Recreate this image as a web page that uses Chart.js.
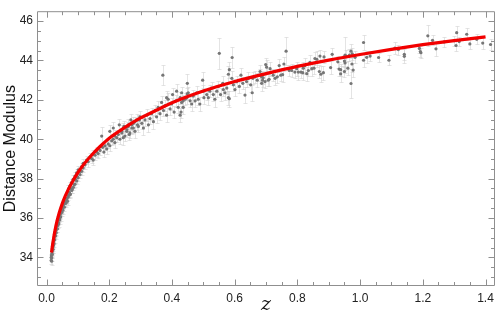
<!DOCTYPE html>
<html>
<head>
<meta charset="utf-8">
<script src="https://cdn.jsdelivr.net/npm/chart.js@4/dist/chart.umd.min.js"></script>
<style>
html, body { margin: 0; padding: 0; background: #fff; }
canvas { display: block; }
</style>
</head>
<body>
<canvas id="hubbleChart" width="500" height="317"></canvas>
<script>
'use strict';

/* ── Data ───────────────────────────────────────────── */
const redshift = [
    0.015, 0.015, 0.016, 0.0166, 0.0166, 0.017, 0.018, 0.0185, 0.019, 0.0198, 0.020, 0.021,
    0.021, 0.0217, 0.022, 0.023, 0.0239, 0.024, 0.025, 0.026, 0.026, 0.0271, 0.028, 0.029,
    0.0293, 0.030, 0.031, 0.0325, 0.033, 0.0344, 0.035, 0.035, 0.036, 0.0376, 0.038, 0.039,
    0.0408, 0.041, 0.042, 0.042, 0.043, 0.044, 0.045, 0.0462, 0.047, 0.049, 0.050, 0.0504,
    0.052, 0.0536, 0.055, 0.057, 0.059, 0.060, 0.062, 0.0644, 0.065, 0.067, 0.0695, 0.070,
    0.070, 0.073, 0.0749, 0.075, 0.076, 0.078, 0.080, 0.0804, 0.082, 0.085, 0.0855, 0.088,
    0.091, 0.0909, 0.093, 0.096, 0.0963, 0.098, 0.101, 0.101, 0.107, 0.107, 0.112, 0.112,
    0.117, 0.117, 0.123, 0.128, 0.133, 0.139, 0.144, 0.147, 0.149, 0.155, 0.160, 0.165,
    0.171, 0.176, 0.179, 0.183, 0.187, 0.192, 0.197, 0.202, 0.202, 0.208, 0.213, 0.213,
    0.218, 0.218, 0.224, 0.229, 0.232, 0.234, 0.240, 0.240, 0.245, 0.245, 0.247, 0.250,
    0.256, 0.256, 0.261, 0.261, 0.264, 0.266, 0.269, 0.272, 0.272, 0.277, 0.277, 0.282,
    0.282, 0.288, 0.290, 0.293, 0.296, 0.298, 0.304, 0.309, 0.314, 0.320, 0.325, 0.330,
    0.335, 0.341, 0.346, 0.351, 0.356, 0.362, 0.367, 0.371, 0.373, 0.378, 0.383, 0.383,
    0.388, 0.394, 0.399, 0.402, 0.407, 0.413, 0.415, 0.420, 0.426, 0.426, 0.429, 0.431,
    0.431, 0.436, 0.436, 0.442, 0.447, 0.449, 0.449, 0.452, 0.458, 0.463, 0.468, 0.474,
    0.479, 0.484, 0.489, 0.498, 0.500, 0.502, 0.511, 0.516, 0.521, 0.527, 0.532, 0.537,
    0.543, 0.548, 0.551, 0.555, 0.562, 0.564, 0.569, 0.575, 0.580, 0.580, 0.583, 0.583,
    0.591, 0.592, 0.596, 0.601, 0.607, 0.615, 0.620, 0.626, 0.633, 0.638, 0.644, 0.651,
    0.656, 0.658, 0.665, 0.672, 0.681, 0.681, 0.686, 0.686, 0.689, 0.691, 0.697, 0.699,
    0.702, 0.707, 0.710, 0.713, 0.723, 0.729, 0.736, 0.742, 0.747, 0.753, 0.757, 0.764,
    0.774, 0.782, 0.792, 0.798, 0.803, 0.811, 0.817, 0.819, 0.824, 0.830, 0.835, 0.840,
    0.846, 0.853, 0.856, 0.862, 0.870, 0.872, 0.875, 0.883, 0.885, 0.906, 0.911, 0.929,
    0.933, 0.938, 0.938, 0.950, 0.952, 0.950, 0.952, 0.956, 0.961, 0.966, 0.971, 0.975,
    0.974, 0.978, 0.971, 0.984, 1.011, 1.011, 1.021, 1.032, 1.059, 1.092, 1.111, 1.122,
    1.141, 1.141, 1.189, 1.192, 1.194, 1.216, 1.231, 1.242, 1.268, 1.300, 1.306, 1.308,
    1.316, 1.340, 1.350, 1.372, 1.391, 1.416
];

const distMod = [
    33.85, 34.00, 34.10, 33.81, 33.98, 34.20, 34.30, 34.15, 34.45, 34.39, 34.50, 34.40,
    34.70, 34.63, 34.60, 34.85, 34.88, 34.70, 35.05, 34.90, 35.20, 35.12, 35.30, 35.10,
    35.29, 35.40, 35.25, 35.44, 35.60, 35.61, 35.45, 35.75, 35.65, 35.78, 35.95, 35.70,
    35.93, 36.00, 36.15, 35.90, 36.10, 36.20, 36.05, 36.26, 36.35, 36.30, 36.50, 36.42,
    36.40, 36.59, 36.70, 36.55, 36.75, 36.85, 36.75, 36.91, 37.00, 36.85, 37.07, 37.15,
    37.48, 37.30, 37.23, 37.64, 37.20, 37.50, 37.80, 37.40, 37.45, 37.97, 37.56, 37.70,
    38.13, 37.72, 37.95, 38.29, 37.88, 38.10, 38.45, 38.05, 38.37, 38.21, 38.61, 38.37,
    38.78, 38.54, 38.70, 38.94, 38.86, 39.10, 39.02, 39.22, 38.94, 39.19, 39.35, 39.27,
    39.43, 40.16, 39.59, 39.35, 39.67, 39.51, 39.76, 39.67, 40.40, 39.92, 40.00, 40.57,
    39.83, 40.16, 40.08, 40.24, 40.73, 40.00, 40.32, 40.40, 40.57, 40.08, 40.65, 40.16,
    40.49, 40.40, 40.65, 40.73, 40.24, 40.32, 40.98, 40.73, 40.57, 40.57, 40.81, 40.89,
    40.40, 40.98, 40.73, 40.65, 40.98, 41.14, 40.81, 40.57, 40.98, 41.22, 40.73, 41.05,
    41.30, 40.89, 41.46, 41.14, 41.62, 41.30, 41.87, 43.25, 41.46, 41.71, 41.22, 42.11,
    42.03, 41.54, 41.79, 42.27, 41.38, 41.95, 42.44, 41.62, 41.22, 42.11, 41.38, 42.36,
    41.87, 41.95, 41.62, 42.03, 42.11, 42.84, 42.31, 42.36, 41.95, 41.79, 42.20, 41.95,
    42.36, 42.03, 41.79, 43.00, 42.44, 42.11, 42.27, 42.11, 42.44, 42.60, 42.27, 42.03,
    42.44, 42.68, 44.36, 42.27, 42.84, 42.52, 42.36, 42.60, 43.30, 42.11, 43.53, 42.06,
    43.09, 44.15, 42.76, 42.52, 42.93, 42.68, 43.25, 42.84, 42.24, 42.93, 43.09, 42.76,
    42.36, 43.09, 43.17, 43.00, 43.44, 43.25, 43.17, 42.84, 43.00, 43.12, 42.93, 43.79,
    43.66, 43.00, 43.04, 43.58, 43.25, 43.09, 43.17, 43.74, 43.25, 43.28, 43.82, 44.47,
    43.49, 43.49, 43.41, 43.58, 43.41, 43.41, 43.38, 43.61, 43.74, 43.33, 43.49, 43.90,
    43.58, 43.61, 44.10, 44.06, 43.44, 44.22, 43.30, 43.38, 44.18, 43.64, 44.31, 43.93,
    43.56, 43.53, 43.32, 43.97, 43.87, 43.44, 44.27, 44.22, 43.61, 44.27, 44.47, 44.34,
    43.82, 43.51, 42.83, 44.16, 44.91, 44.01, 44.16, 44.22, 44.15, 44.01, 44.63, 44.55,
    44.31, 44.21, 44.61, 44.45, 44.39, 45.25, 45.02, 44.59, 44.94, 45.00, 44.76, 45.41,
    44.96, 45.33, 44.84, 45.07, 44.88, 44.81
];

const distErr = [
    0.18, 0.15, 0.15, 0.20, 0.15, 0.15, 0.15, 0.18, 0.15, 0.15, 0.15, 0.18,
    0.15, 0.15, 0.15, 0.15, 0.15, 0.18, 0.15, 0.18, 0.15, 0.15, 0.15, 0.18,
    0.15, 0.15, 0.18, 0.15, 0.15, 0.15, 0.18, 0.15, 0.15, 0.15, 0.15, 0.18,
    0.15, 0.15, 0.15, 0.18, 0.15, 0.15, 0.18, 0.15, 0.15, 0.18, 0.15, 0.15,
    0.18, 0.15, 0.15, 0.20, 0.15, 0.15, 0.18, 0.15, 0.15, 0.20, 0.15, 0.15,
    0.18, 0.15, 0.15, 0.18, 0.18, 0.15, 0.18, 0.15, 0.18, 0.20, 0.15, 0.18,
    0.20, 0.15, 0.18, 0.20, 0.15, 0.18, 0.20, 0.18, 0.20, 0.18, 0.20, 0.20,
    0.20, 0.20, 0.22, 0.22, 0.25, 0.22, 0.25, 0.22, 0.25, 0.22, 0.25, 0.22,
    0.25, 0.45, 0.22, 0.25, 0.22, 0.25, 0.22, 0.25, 0.30, 0.22, 0.25, 0.30,
    0.25, 0.30, 0.22, 0.25, 0.30, 0.25, 0.25, 0.30, 0.25, 0.35, 0.30, 0.25,
    0.25, 0.30, 0.25, 0.30, 0.30, 0.25, 0.30, 0.25, 0.30, 0.25, 0.30, 0.25,
    0.35, 0.30, 0.25, 0.30, 0.25, 0.30, 0.30, 0.35, 0.30, 0.30, 0.35, 0.30,
    0.30, 0.35, 0.30, 0.30, 0.30, 0.30, 0.35, 0.50, 0.30, 0.30, 0.35, 0.35,
    0.30, 0.30, 0.30, 0.35, 0.30, 0.30, 0.35, 0.30, 0.35, 0.30, 0.30, 0.30,
    0.30, 0.30, 0.35, 0.30, 0.30, 0.45, 0.30, 0.30, 0.30, 0.35, 0.30, 0.30,
    0.35, 0.30, 0.35, 0.40, 0.30, 0.30, 0.30, 0.35, 0.30, 0.30, 0.35, 0.40,
    0.30, 0.30, 0.80, 0.35, 0.35, 0.30, 0.35, 0.30, 0.40, 0.35, 0.40, 0.40,
    0.35, 0.55, 0.30, 0.35, 0.30, 0.35, 0.35, 0.30, 0.40, 0.30, 0.30, 0.35,
    0.40, 0.30, 0.30, 0.35, 0.35, 0.30, 0.30, 0.40, 0.35, 0.30, 0.35, 0.35,
    0.35, 0.30, 0.35, 0.35, 0.30, 0.35, 0.30, 0.35, 0.30, 0.35, 0.35, 0.70,
    0.30, 0.35, 0.30, 0.35, 0.40, 0.30, 0.35, 0.30, 0.40, 0.35, 0.30, 0.40,
    0.35, 0.30, 0.35, 0.40, 0.35, 0.30, 0.40, 0.35, 0.30, 0.35, 0.30, 0.30,
    0.35, 0.30, 0.40, 0.30, 0.35, 0.30, 0.90, 0.30, 0.35, 0.30, 0.35, 0.30,
    0.40, 0.35, 0.75, 0.30, 0.37, 0.35, 0.30, 0.25, 0.25, 0.25, 0.30, 0.25,
    0.30, 0.35, 0.25, 0.30, 0.25, 0.53, 0.25, 0.35, 0.25, 0.25, 0.30, 0.33,
    0.25, 0.30, 0.25, 0.25, 0.30, 0.30
];

// fitted model curve, sampled off the red line
const modelZ  = [0.016, 0.02, 0.03, 0.04, 0.05, 0.06, 0.07, 0.08, 0.10, 0.12, 0.15, 0.17, 0.20, 0.25,
                 0.30, 0.35, 0.40, 0.45, 0.50, 0.60, 0.70, 0.80, 0.90, 1.00, 1.10, 1.20, 1.30, 1.40];
const modelMu = [34.25, 34.71, 35.60, 36.23, 36.72, 37.12, 37.47, 37.77, 38.30, 38.75, 39.30, 39.62, 40.05, 40.60,
                 41.08, 41.47, 41.85, 42.17, 42.45, 42.93, 43.33, 43.70, 44.02, 44.30, 44.56, 44.80, 45.01, 45.20];

const xTicks = [0.0, 0.2, 0.4, 0.6, 0.8, 1.0, 1.2, 1.4];
const yTicks = [34, 36, 38, 40, 42, 44, 46];

/* ── Frame, inward ticks and error bars ─────────────── */
const FRAME = '#8f8f8f';

const framePlugin = {
    id: 'framePlugin',
    beforeDatasetsDraw(chart) {
        const { ctx, chartArea: a, scales: { x, y } } = chart;
        ctx.save();
        ctx.beginPath();
        ctx.rect(a.left, a.top, a.right - a.left, a.bottom - a.top);
        ctx.clip();
        ctx.strokeStyle = 'rgba(205,205,205,0.55)';
        ctx.lineWidth = 1;
        ctx.beginPath();
        redshift.forEach((z, i) => {
            const px = Math.round(x.getPixelForValue(z)) + 0.5;
            const hi = Math.round(y.getPixelForValue(distMod[i] + distErr[i])) + 0.5;
            const lo = Math.round(y.getPixelForValue(distMod[i] - distErr[i])) + 0.5;
            ctx.moveTo(px, hi); ctx.lineTo(px, lo);
            ctx.moveTo(px - 2, hi); ctx.lineTo(px + 2, hi);
            ctx.moveTo(px - 2, lo); ctx.lineTo(px + 2, lo);
        });
        ctx.stroke();
        ctx.restore();
    },
    afterDraw(chart) {
        const { ctx, chartArea: a, scales: { x, y } } = chart;
        const L = a.left + 0.5, R = a.right - 0.5, T = a.top + 0.5, B = a.bottom - 0.5;
        ctx.save();
        ctx.strokeStyle = FRAME;
        ctx.lineWidth = 1;
        ctx.beginPath();
        ctx.rect(L, T, R - L, B - T);

        const xTick = (v, len) => {
            const px = Math.round(x.getPixelForValue(v)) + 0.5;
            ctx.moveTo(px, B); ctx.lineTo(px, B - len);
            ctx.moveTo(px, T); ctx.lineTo(px, T + len);
        };
        const yTick = (v, len) => {
            const py = Math.round(y.getPixelForValue(v)) + 0.5;
            ctx.moveTo(L, py); ctx.lineTo(L + len, py);
            ctx.moveTo(R, py); ctx.lineTo(R - len, py);
        };
        for (let k = 0; k <= 28; k++) xTick(k * 0.05, k % 4 === 0 ? 6 : 3.5);
        for (let v = 33; v < y.max; v += 0.5) yTick(v, v % 2 === 0 ? 6 : 3.5);
        ctx.stroke();
        ctx.restore();
    }
};

/* ── Chart ──────────────────────────────────────────── */
new Chart(document.getElementById('hubbleChart'), {
    type: 'scatter',
    data: {
        datasets: [
            {
                type: 'line',
                data: modelZ.map((z, i) => ({ x: z, y: modelMu[i] })),
                borderColor: '#f20000',
                borderWidth: 3.2,
                pointRadius: 0,
                cubicInterpolationMode: 'monotone',
                fill: false,
            },
            {
                data: redshift.map((z, i) => ({ x: z, y: distMod[i] })),
                pointRadius: 1.6,
                pointBackgroundColor: '#767676',
                pointBorderWidth: 0,
            }
        ]
    },
    options: {
        responsive: false,
        animation: false,
        devicePixelRatio: 1,
        layout: { padding: { top: 0, right: 5, left: 0, bottom: 0 } },
        plugins: { legend: { display: false }, tooltip: { enabled: false } },
        scales: {
            x: {
                type: 'linear', min: -0.0303, max: 1.4302,
                grid: { display: false, drawTicks: false },
                border: { display: false },
                afterBuildTicks: s => { s.ticks = xTicks.map(v => ({ value: v })); },
                afterFit: s => { s.height = 31; },
                ticks: {
                    padding: 5, color: '#222', maxRotation: 0, autoSkip: false,
                    font: { family: "'Liberation Sans', Arial, sans-serif", size: 12 },
                    callback: v => v.toFixed(1)
                },
                title: {
                    display: true, text: 'z', color: '#111',
                    font: { family: "'DejaVu Serif', serif", size: 19, style: 'italic', lineHeight: 1 },
                    padding: { top: 0, bottom: 2 }
                }
            },
            y: {
                type: 'linear', min: 32.55, max: 46.5,
                grid: { display: false, drawTicks: false },
                border: { display: false },
                afterBuildTicks: s => { s.ticks = yTicks.map(v => ({ value: v })); },
                afterFit: s => { s.width = 37; },
                ticks: {
                    padding: 4, color: '#222', autoSkip: false,
                    font: { family: "'Liberation Sans', Arial, sans-serif", size: 12 }
                },
                title: {
                    display: true, text: 'Distance Modulus', color: '#111',
                    font: { family: "'Liberation Sans', Arial, sans-serif", size: 16, lineHeight: 1.2 },
                    padding: { top: 1, bottom: 0 }
                }
            }
        }
    },
    plugins: [framePlugin]
});
</script>
</body>
</html>
